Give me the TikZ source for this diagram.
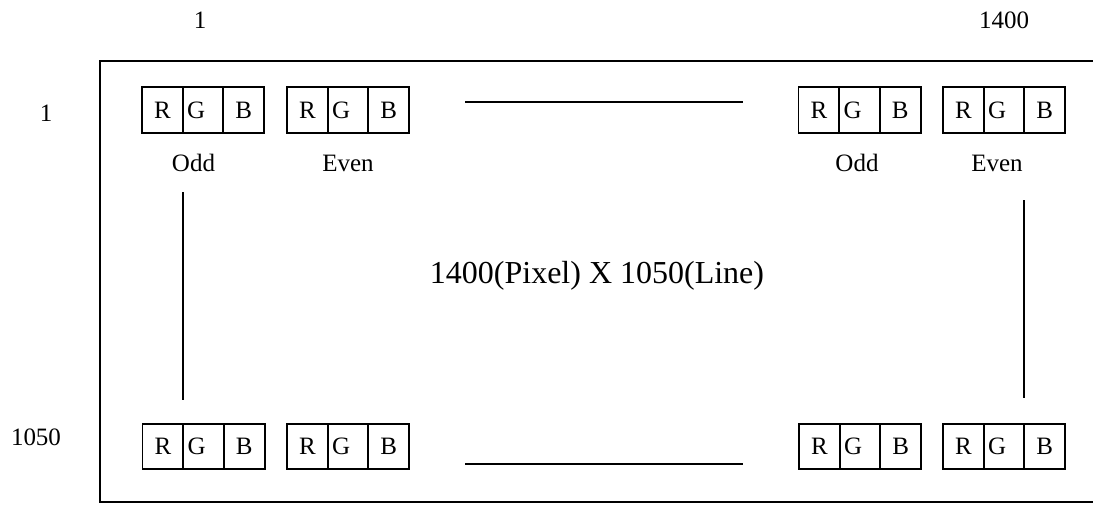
\documentclass[tikz,border=0pt]{standalone}
\usepackage{fontspec}
\setmainfont{Liberation Serif}
\begin{document}
\begin{tikzpicture}[x=1pt,y=-1pt,
 cell/.style={draw,line width=1.9pt,minimum width=40.7pt,minimum height=45.5pt,inner sep=0pt,font=\fontsize{25}{25}\selectfont},
 lbl/.style={font=\fontsize{25}{25}\selectfont,inner sep=0pt},
 sep/.style={line width=2pt},
 frame/.style={line width=2.4pt}]
\useasboundingbox (0,0) rectangle (1093,504);
\clip (0,0) rectangle (1093,504);
\draw[frame] (100,61) rectangle (1120,502);
\foreach \n/\x/\y in {a/142/110, b/287/110, c/798.5/110, d/943/110, e/142.5/446.5, f/287/446.5, g/799/446.5, h/943/446.5} {
  \node[cell] (\n R) at (\x+20.35,\y) {R};
  \node[cell] (\n G) at (\x+61.05,\y) {\hspace*{-7pt}G\hspace*{7pt}};
  \node[cell] (\n B) at (\x+101.75,\y) {B};
}
\node[lbl] (odd1) at (193.5,163) {Odd};
\node[lbl] (even1) at (348,163) {Even};
\node[lbl] (odd2) at (857,163) {Odd};
\node[lbl] (even2) at (997,163) {Even};
\node[lbl] (c1) at (200,20) {1};
\node[lbl] (c1400) at (1004,20) {1400};
\node[lbl] (r1) at (46,113) {1};
\node[lbl] (r1050) at (36,437) {1050};
\node[font=\fontsize{32}{32}\selectfont,inner sep=0pt] (title) at (597,276) {1400(Pixel) X 1050(Line)};
\coordinate (ht1) at (465,102);
\coordinate (ht2) at (743,102);
\coordinate (hb1) at (465,464);
\coordinate (hb2) at (743,464);
\coordinate (vl1) at (183.3,192);
\coordinate (vl2) at (183.3,400);
\coordinate (vr1) at (1024,200);
\coordinate (vr2) at (1024,398);
\draw[sep] (ht1) -- (ht2);
\draw[sep] (hb1) -- (hb2);
\draw[sep] (vl1) -- (vl2);
\draw[sep] (vr1) -- (vr2);
\end{tikzpicture}
\end{document}
